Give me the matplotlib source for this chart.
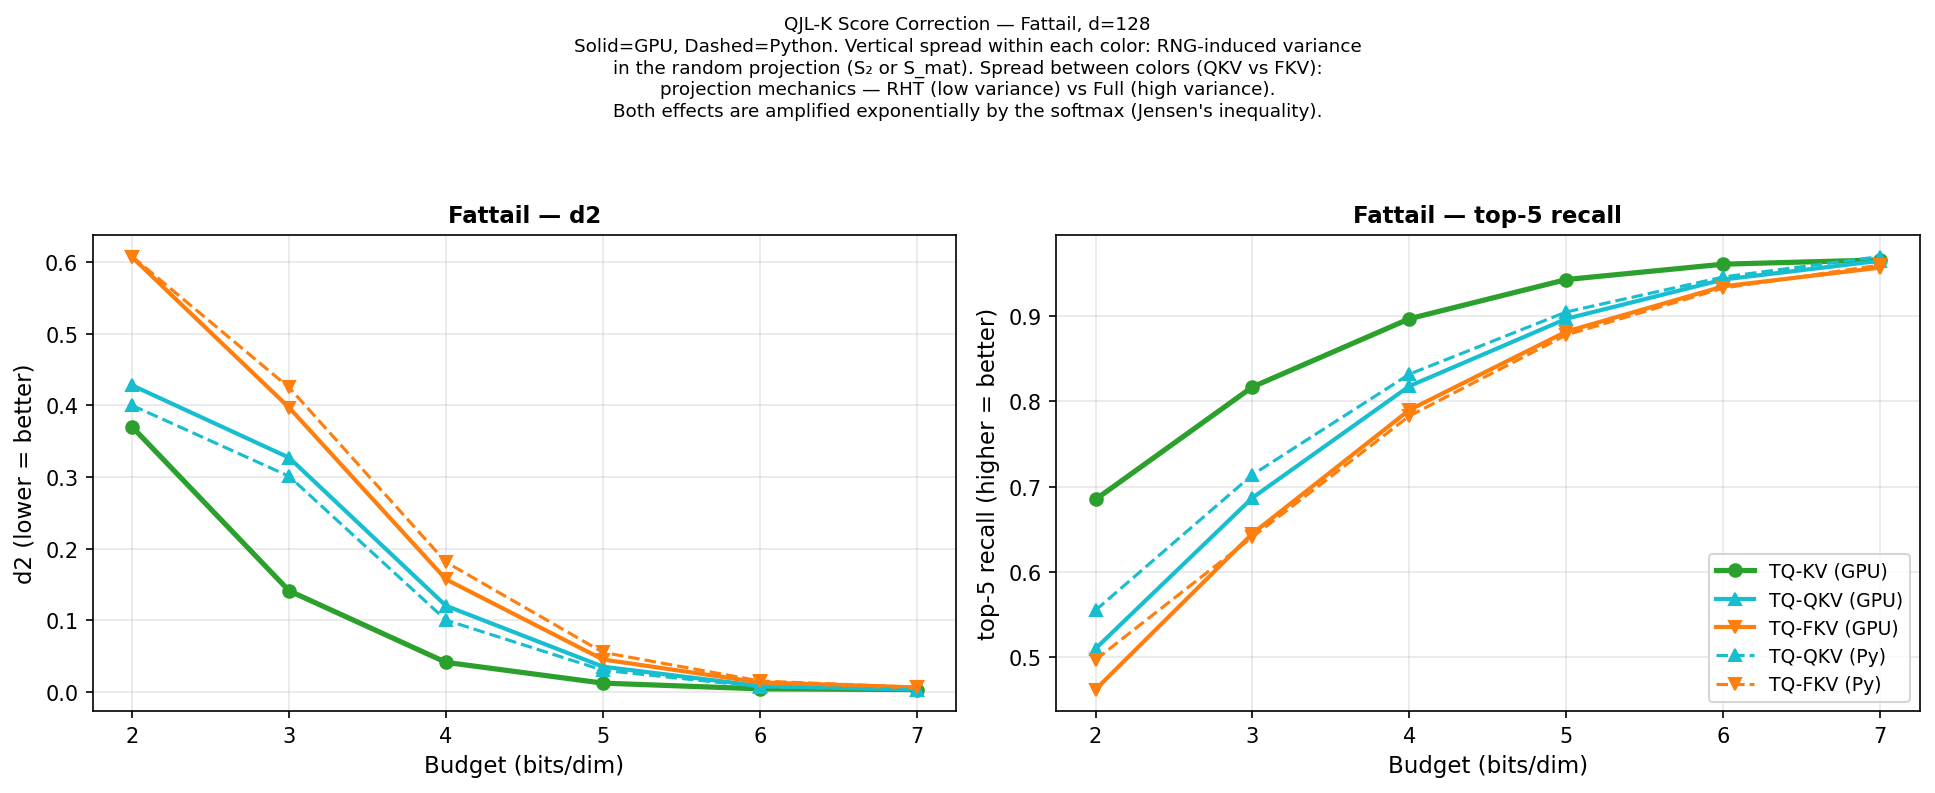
import numpy as np
import matplotlib
matplotlib.use("Agg")
import matplotlib.pyplot as plt

# ---------- data ----------
budgets = [2, 3, 4, 5, 6, 7]

# d2 (lower = better)
d2_kv_gpu   = [0.370, 0.141, 0.041, 0.012, 0.004, 0.003]
d2_qkv_gpu  = [0.428, 0.327, 0.120, 0.035, 0.008, 0.003]
d2_fkv_gpu  = [0.607, 0.397, 0.157, 0.045, 0.013, 0.006]
d2_qkv_py   = [0.400, 0.301, 0.100, 0.030, 0.007, 0.003]
d2_fkv_py   = [0.608, 0.425, 0.181, 0.055, 0.015, 0.006]

# top-5 recall (higher = better)
rec_kv_gpu  = [0.685, 0.817, 0.897, 0.943, 0.961, 0.966]
rec_qkv_gpu = [0.510, 0.687, 0.818, 0.897, 0.943, 0.965]
rec_fkv_gpu = [0.462, 0.645, 0.790, 0.882, 0.935, 0.957]
rec_qkv_py  = [0.555, 0.714, 0.832, 0.905, 0.946, 0.970]
rec_fkv_py  = [0.497, 0.641, 0.783, 0.878, 0.933, 0.960]

C_KV = "#2ca02c"
C_QKV = "#17becf"
C_FKV = "#ff7f0e"

suptitle = ("QJL-K Score Correction — Fattail, d=128\n"
            "Solid=GPU, Dashed=Python. Vertical spread within each color: RNG-induced variance\n"
            "in the random projection (S\u2082 or S_mat). Spread between colors (QKV vs FKV):\n"
            "projection mechanics — RHT (low variance) vs Full (high variance).\n"
            "Both effects are amplified exponentially by the softmax (Jensen's inequality).")

fig, axes = plt.subplots(1, 2, figsize=(12.9, 5.293), dpi=150)


def draw(ax, kv, qkv, fkv, qkv_py, fkv_py):
    ax.plot(budgets, kv, "-o", color=C_KV, lw=2.5, ms=6, label="TQ-KV (GPU)")
    ax.plot(budgets, qkv, "-^", color=C_QKV, lw=2, ms=6, label="TQ-QKV (GPU)")
    ax.plot(budgets, fkv, "-v", color=C_FKV, lw=2, ms=6, label="TQ-FKV (GPU)")
    ax.plot(budgets, qkv_py, "--^", color=C_QKV, lw=1.5, ms=6, label="TQ-QKV (Py)")
    ax.plot(budgets, fkv_py, "--v", color=C_FKV, lw=1.5, ms=6, label="TQ-FKV (Py)")
    ax.set_xlabel("Budget (bits/dim)", fontsize=11)
    ax.grid(True, alpha=0.3)
    ax.set_xticks(budgets)


draw(axes[0], d2_kv_gpu, d2_qkv_gpu, d2_fkv_gpu, d2_qkv_py, d2_fkv_py)
axes[0].set_ylabel("d2 (lower = better)", fontsize=11)
axes[0].set_title("Fattail — d2", fontsize=11, fontweight="bold")

draw(axes[1], rec_kv_gpu, rec_qkv_gpu, rec_fkv_gpu, rec_qkv_py, rec_fkv_py)
axes[1].set_ylabel("top-5 recall (higher = better)", fontsize=11)
axes[1].set_title("Fattail — top-5 recall", fontsize=11, fontweight="bold")
axes[1].legend(loc="lower right", fontsize=9)

fig.suptitle(suptitle, fontsize=8.8, y=0.98, linespacing=1.27)
fig.subplots_adjust(left=0.048, right=0.992, bottom=0.103, top=0.703, wspace=0.116)
fig.savefig("out.png", dpi=150)
